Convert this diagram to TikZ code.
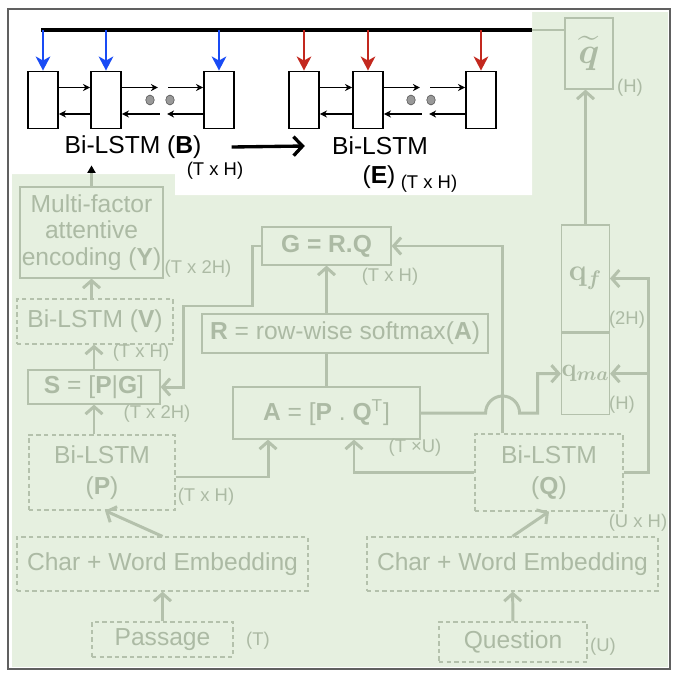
\documentclass[tikz,border=0pt]{standalone}
\usepackage{amsmath}
\usepackage[no-math]{fontspec}
\setmainfont{Liberation Sans}
\usetikzlibrary{arrows.meta,positioning,calc,shapes.geometric}
\definecolor{paleleaf}{RGB}{230,240,224}
\definecolor{sage}{RGB}{180,193,172}
\definecolor{sagetext}{RGB}{172,186,164}
\definecolor{gatesblue}{RGB}{25,75,245}
\definecolor{gatesred}{RGB}{195,40,30}
\tikzset{
  cell/.style={draw=black,line width=1.1pt,fill=white,minimum width=0.6cm,minimum height=1.14cm,inner sep=0pt},
  gapdot/.style={ellipse,fill=gray!80,draw=gray!60!black,line width=0.3pt,minimum width=0.17cm,minimum height=0.2cm,inner sep=0pt},
  toplbl/.style={font=\fontsize{14}{16}\selectfont,inner sep=0pt},
  topdim/.style={font=\fontsize{10.5}{12}\selectfont,inner sep=0pt},
  dimlbl/.style={topdim,text=sagetext},
  unitbox/.style={draw=sage,line width=0.7pt,text=sagetext,align=center,inner sep=0pt,font=\fontsize{14}{18}\selectfont},
  softbox/.style={unitbox,dash pattern=on 2.5pt off 1.8pt},
  flowarr/.style={draw=sage,line width=1.7pt,-{Straight Barb[length=1.5mm,width=3.4mm]}},
  wire/.style={draw=sage,line width=1.7pt},
  feedB/.style={draw=gatesblue,line width=1.5pt,-{Stealth[length=2.8mm,width=2.9mm,inset=0.8mm]}},
  feedE/.style={feedB,draw=gatesred},
  stepln/.style={draw=black,line width=0.8pt,-{Stealth[length=1.4mm,width=1.4mm]}},
  handoff/.style={draw=black,line width=1.9pt,-{Straight Barb[length=1.8mm,width=3.8mm]}}
}
\begin{document}
\begin{tikzpicture}[x=0.02cm,y=-0.02cm]
  \useasboundingbox (0,0) rectangle (680,680);
  % background
  \fill[paleleaf] (12,12) rectangle (668,667);
  \fill[white] (12,12) -- (532,12) -- (532,195) -- (175,195) -- (175,174) -- (12,174) -- cycle;
  \draw[gray!75!black,line width=0.9pt] (8,9) rectangle (670,669);
  % stacked bi-lstms B and E
  \coordinate (busL) at (41,30);
  \coordinate (busR) at (532,30);
  \node[cell] (b1) at (43,100) {};
  \node[cell] (b2) at (106,100) {};
  \node[cell] (b3) at (219,100) {};
  \node[gapdot] (bd1) at (150,100) {};
  \node[gapdot] (bd2) at (170,100) {};
  \node[cell] (e1) at (304,100) {};
  \node[cell] (e2) at (368,100) {};
  \node[cell] (e3) at (481,100) {};
  \node[gapdot] (ed1) at (411,100) {};
  \node[gapdot] (ed2) at (431,100) {};
  \draw[black,line width=2pt] (busL) -- (busR);
  \foreach \c in {b1,b2,b3} \draw[feedB] (\c.north |- busL) -- (\c.north);
  \foreach \c in {e1,e2,e3} \draw[feedE] (\c.north |- busL) -- (\c.north);
  \foreach \u/\v in {b1/b2,e1/e2} {
    \draw[stepln] ([yshift=0.25cm]\u.east) -- ([yshift=0.25cm]\v.west);
    \draw[stepln] ([yshift=-0.28cm]\v.west) -- ([yshift=-0.28cm]\u.east);
  }
  \foreach \u/\v in {b2/b3,e2/e3} {
    \draw[stepln] ([yshift=0.25cm]\u.east) -- ([xshift=0.72cm,yshift=0.25cm]\u.east);
    \draw[stepln] ([xshift=0.76cm,yshift=-0.28cm]\u.east) -- ([yshift=-0.28cm]\u.east);
    \draw[stepln] ([xshift=-0.7cm,yshift=0.25cm]\v.west) -- ([yshift=0.25cm]\v.west);
    \draw[stepln] ([yshift=-0.28cm]\v.west) -- ([xshift=-0.72cm,yshift=-0.28cm]\v.west);
  }
  \node[toplbl] (lblB) at (133,147) {Bi-LSTM (\textbf{B})};
  \node[topdim] (dimB) at (215,171) {(T x H)};
  \node[toplbl] (lblE) at (380,146) {Bi-LSTM};
  \node[toplbl] (lblE2) at (379,177) {(\textbf{E})};
  \node[topdim] (dimE) at (429,184) {(T x H)};
  \draw[handoff] ([xshift=0.6cm]lblB.east) -- ([xshift=-0.54cm]lblE.west);
  % question summary
  \node[unitbox,minimum width=0.96cm,minimum height=1.42cm] (qtil) at (589,53.5) {\fontsize{22}{22}\selectfont$\widetilde{\boldsymbol{q}}$};
  \node[dimlbl] (dimqt) at (630,88) {(H)};
  \node[unitbox,minimum width=0.95cm,minimum height=2.14cm,font=\fontsize{17}{17}\selectfont] (qf) at (585.5,278.5) {$\mathbf{q}_{\boldsymbol{f}}$};
  \node[unitbox,minimum width=0.95cm,minimum height=1.62cm,font=\fontsize{15}{15}\selectfont,below=0pt of qf] (qma) {$\mathbf{q}_{\boldsymbol{ma}}$};
  \node[dimlbl] (dimqf) at (627,320) {(2H)};
  \node[dimlbl] (dimqma) at (622,405) {(H)};
  % passage side
  \node[unitbox,minimum width=2.86cm,minimum height=1.82cm,font=\fontsize{14}{15}\selectfont] (mfe) at (91.5,232.5) {Multi-factor\\attentive\\encoding (\textbf{Y})};
  \node[dimlbl] (dimY) at (198,269) {(T x 2H)};
  \node[softbox,minimum width=3.12cm,minimum height=0.9cm] (bv) at (95,321.5) {Bi-LSTM (\textbf{V})};
  \node[dimlbl] (dimV) at (141,353) {(T x H)};
  \node[unitbox,minimum width=2.64cm,minimum height=0.68cm] (smat) at (94,387) {\textbf{S} = [\textbf{P}|\textbf{G}]};
  \node[dimlbl] (dimS) at (157,414) {(T x 2H)};
  \node[unitbox,minimum width=2.58cm,minimum height=0.76cm] (gmat) at (326.5,246) {\textbf{G = R.Q}};
  \node[dimlbl] (dimG) at (390,277) {(T x H)};
  \node[unitbox,minimum width=5.72cm,minimum height=0.78cm] (rmat) at (345,333.5) {\textbf{R} = row-wise softmax(\textbf{A})};
  \node[unitbox,minimum width=3.74cm,minimum height=1.04cm] (amat) at (326.5,413) {\textbf{A} = [\textbf{P} . \textbf{Q}\textsuperscript{T}]};
  \node[dimlbl] (dimA) at (415,448) {(T ×U)};
  \node[softbox,minimum width=2.92cm,minimum height=1.5cm] (bp) at (102,472.5) {Bi-LSTM\\(\textbf{P})};
  \node[dimlbl] (dimP) at (206,497) {(T x H)};
  \node[softbox,minimum width=2.96cm,minimum height=1.54cm] (bq) at (549,472.5) {Bi-LSTM\\(\textbf{Q})};
  \node[dimlbl] (dimQ) at (638,523) {(U x H)};
  \node[softbox,minimum width=5.82cm,minimum height=1.08cm] (embp) at (162.5,564) {Char + Word Embedding};
  \node[softbox,minimum width=5.82cm,minimum height=1.08cm] (embq) at (512.5,564) {Char + Word Embedding};
  \node[softbox,minimum width=2.82cm,minimum height=0.7cm] (psg) at (162.5,639.5) {Passage};
  \node[dimlbl] (dimpsg) at (258,641) {(T)};
  \node[softbox,minimum width=2.96cm,minimum height=0.8cm] (qst) at (513,642) {Question};
  \node[dimlbl] (dimqst) at (603,647) {(U)};
  % connectors
  \draw[wire] (busR) -- (busR -| qtil.west);
  \draw[flowarr] (psg) -- (embp);
  \draw[flowarr] (embp.north) -- ([xshift=0.06cm]bp.south);
  \draw[flowarr] (qst) -- (embq);
  \draw[flowarr] (embq.north) -- (bq.south);
  \draw[flowarr] (bp.north -| smat.south) -- (smat.south);
  \draw[flowarr] (smat.north) -- (smat.north |- bv.south);
  \draw[flowarr] (bv.north -| mfe.south) -- (mfe.south);
  \draw[wire,-{Triangle[color=black,length=1.5mm,width=1.6mm]}] (mfe.north) -- ++(0,0.42cm);
  \draw[flowarr] ([yshift=-0.09cm]bp.east) -| ([xshift=-1.17cm]amat.south);
  \draw[flowarr] (bq.west) -| ([xshift=0.55cm]amat.south);
  \draw[wire] (amat.north) -- (amat.north |- rmat.south);
  \draw[flowarr] (rmat.north -| gmat.south) -- (gmat.south);
  \draw[flowarr] ([xshift=-0.94cm]bq.north) |- (gmat.east);
  \draw[flowarr] (gmat.west) -- ++(-0.18cm,0) -- ++(0,-1.2cm) -- ++(-1.38cm,0) |- (smat.east);
  \draw[flowarr] (amat.east) -- ++(1.3cm,0) arc[start angle=180,end angle=0,radius=0.34cm] -- ++(0.36cm,0) |- (qma.west);
  \draw[flowarr] (bq.east) -- ++(0.5cm,0) |- (qf.east);
  \draw[flowarr] ([xshift=0.5cm]bq.east) |- (qma.east);
  \draw[flowarr] (qf.north) -- (qf.north |- qtil.south);
\end{tikzpicture}
\end{document}
